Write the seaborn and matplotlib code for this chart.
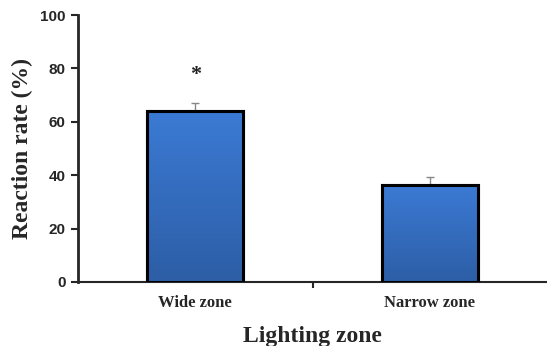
import matplotlib
matplotlib.use("Agg")
import matplotlib.pyplot as plt
import seaborn as sns
import numpy as np
import pandas as pd
from matplotlib.colors import LinearSegmentedColormap

categories = ["Wide zone", "Narrow zone"]
values = [64.0, 36.3]
errors = [3.0, 3.0]
yticks = [0, 20, 40, 60, 80, 100]

df = pd.DataFrame({"zone": categories, "rate": values})

sns.set_style("white")
fig = plt.figure(figsize=(5.47, 3.46), dpi=100)
ax = fig.add_axes([0.1426, 0.185, 0.8574, 0.7716])

sns.barplot(data=df, x="zone", y="rate", ax=ax, color="#3470c4",
            width=0.41, edgecolor="black", linewidth=2.2, errorbar=None, zorder=3)

# gradient fill inside bars
cmap = LinearSegmentedColormap.from_list("g", ["#2d5ea6", "#3b7ad4"])
grad = np.linspace(0, 1, 256).reshape(-1, 1)
for p in list(ax.patches):
    x0, y0 = p.get_x(), p.get_y()
    w, h = p.get_width(), p.get_height()
    im = ax.imshow(grad, extent=[x0, x0 + w, y0, y0 + h], origin="lower",
                   cmap=cmap, aspect="auto", zorder=3.5)
    im.set_clip_path(p)
    ax.add_patch(plt.Rectangle((x0, y0), w, h, fill=False, edgecolor="black",
                               linewidth=2.2, zorder=4))

ax.errorbar(range(len(values)), values, yerr=[[0, 0], errors], fmt="none",
            ecolor="#888888", elinewidth=1, capsize=3, capthick=1, zorder=2)

ax.text(0, 77.5, "*", ha="center", va="center", fontsize=16,
        family="Liberation Serif", fontweight="bold", color="#222222")

ax.set_xlim(-0.5, 1.5)
ax.set_ylim(0, 100)
ax.set_yticks(yticks)
ax.set_yticklabels([str(t) for t in yticks], family="Liberation Sans",
                   fontweight="bold", fontsize=11)
ax.set_xticks([0.5])
ax.set_xticklabels([""])
ax.tick_params(axis="x", length=4, width=1.5, direction="out", bottom=True)
ax.tick_params(axis="y", length=5, width=1.5, direction="out", left=True, pad=4)

for i, c in enumerate(categories):
    ax.text(i, -0.078, c, transform=ax.get_xaxis_transform(), ha="center",
            va="center", family="Liberation Serif", fontweight="bold", fontsize=12)

ax.set_xlabel("")
ax.text(0.5, -0.206, "Lighting zone", transform=ax.transAxes, ha="center",
        va="center", family="Liberation Serif", fontweight="bold", fontsize=17)
ax.set_ylabel("Reaction rate (%)", family="Liberation Serif", fontweight="bold",
              fontsize=17)
ax.yaxis.set_label_coords(-0.119, 0.5)
ax.yaxis.label.set_va("center")

sns.despine(ax=ax)
ax.spines["left"].set_linewidth(2)
ax.spines["bottom"].set_linewidth(1.5)

fig.savefig("out.png", dpi=100)
